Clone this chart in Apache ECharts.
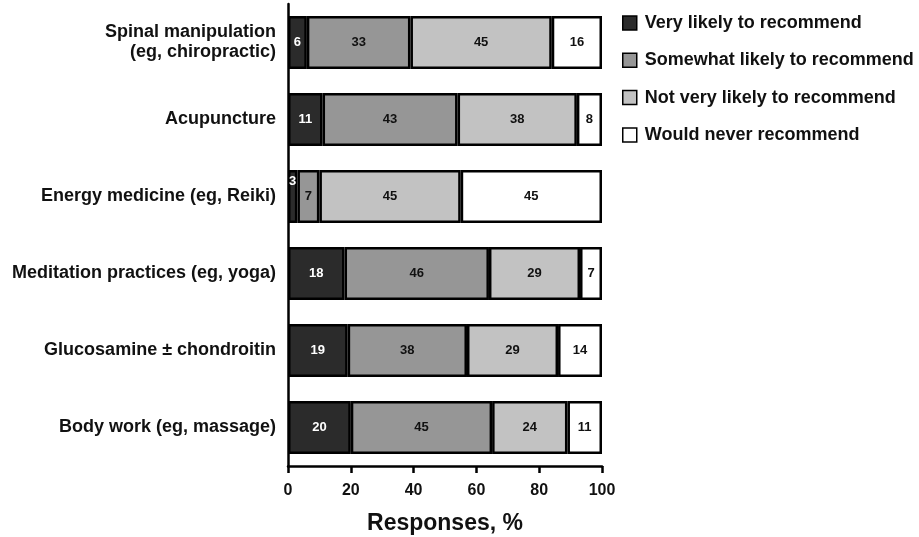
<!DOCTYPE html>
<html><head><meta charset="utf-8">
<script src="https://cdn.jsdelivr.net/npm/echarts@6/dist/echarts.min.js"></script>
<style>html,body{margin:0;padding:0;background:#fff}#c{width:919px;height:537px}</style>
</head><body><div id="c"></div>
<script>
const categories = ['Spinal manipulation\n(eg, chiropractic)','Acupuncture','Energy medicine (eg, Reiki)','Meditation practices (eg, yoga)','Glucosamine ± chondroitin','Body work (eg, massage)'];
const veryLikely = [6, 11, 3, 18, 19, 20];
const somewhatLikely = [33, 43, 7, 46, 38, 45];
const notVeryLikely = [45, 38, 45, 29, 29, 24];
const neverRecommend = [16, 8, 45, 7, 14, 11];
const seriesNames = ['Very likely to recommend','Somewhat likely to recommend','Not very likely to recommend','Would never recommend'];
const xTicks = [0, 20, 40, 60, 80, 100];

const colors = ['#2b2b2b', '#969696', '#c2c2c2', '#ffffff'];
const labelColors = ['#ffffff', '#111', '#111', '#111'];
const dataSets = [veryLikely, somewhatLikely, notVeryLikely, neverRecommend];
const font = 'Liberation Sans, Arial, sans-serif';

const series = dataSets.map((d, i) => ({
  name: seriesNames[i],
  type: 'bar',
  stack: 'total',
  barWidth: 53,
  data: d.map(v => v < 5 ? { value: v, label: { position: 'insideTop', distance: 5 } } : v),
  itemStyle: { color: colors[i], borderColor: '#000', borderWidth: 2.5 },
  label: { show: true, position: 'inside', color: labelColors[i], fontFamily: font, fontWeight: 'bold', fontSize: 13 }
}));

const chart = echarts.init(document.getElementById('c'), null, { renderer: 'canvas' });
chart.setOption({
  animation: false,
  backgroundColor: '#fff',
  grid: { left: 288, right: 317, top: 4, bottom: 71, containLabel: false, outerBoundsMode: 'none' },
  legend: {
    orient: 'vertical', left: 617, top: 8, itemGap: 17.3, itemWidth: 14, itemHeight: 14,
    icon: 'rect',
    itemStyle: { borderColor: '#000', borderWidth: 1.5 },
    textStyle: { fontFamily: font, fontWeight: 'bold', fontSize: 18, lineHeight: 20, color: '#111', padding: [0,0,0,3] },
    data: seriesNames
  },
  xAxis: {
    type: 'value', min: 0, max: 100, interval: 20,
    name: 'Responses, %', nameLocation: 'middle', nameGap: 46,
    nameTextStyle: { fontFamily: font, fontWeight: 'bold', fontSize: 23, color: '#111' },
    axisLine: { show: true, lineStyle: { color: '#000', width: 2.5 } },
    axisTick: { show: true, length: 7, lineStyle: { color: '#000', width: 2.5 } },
    axisLabel: { fontFamily: font, fontWeight: 'bold', fontSize: 16, color: '#111', margin: 17 },
    splitLine: { show: false }
  },
  yAxis: {
    type: 'category', data: categories, inverse: true,
    axisLine: { show: true, lineStyle: { color: '#000', width: 2.5 } },
    axisTick: { show: false },
    axisLabel: { fontFamily: font, fontWeight: 'bold', fontSize: 18, color: '#111', margin: 12, align: 'right', lineHeight: 20 }
  },
  series: series
});
</script></body></html>
